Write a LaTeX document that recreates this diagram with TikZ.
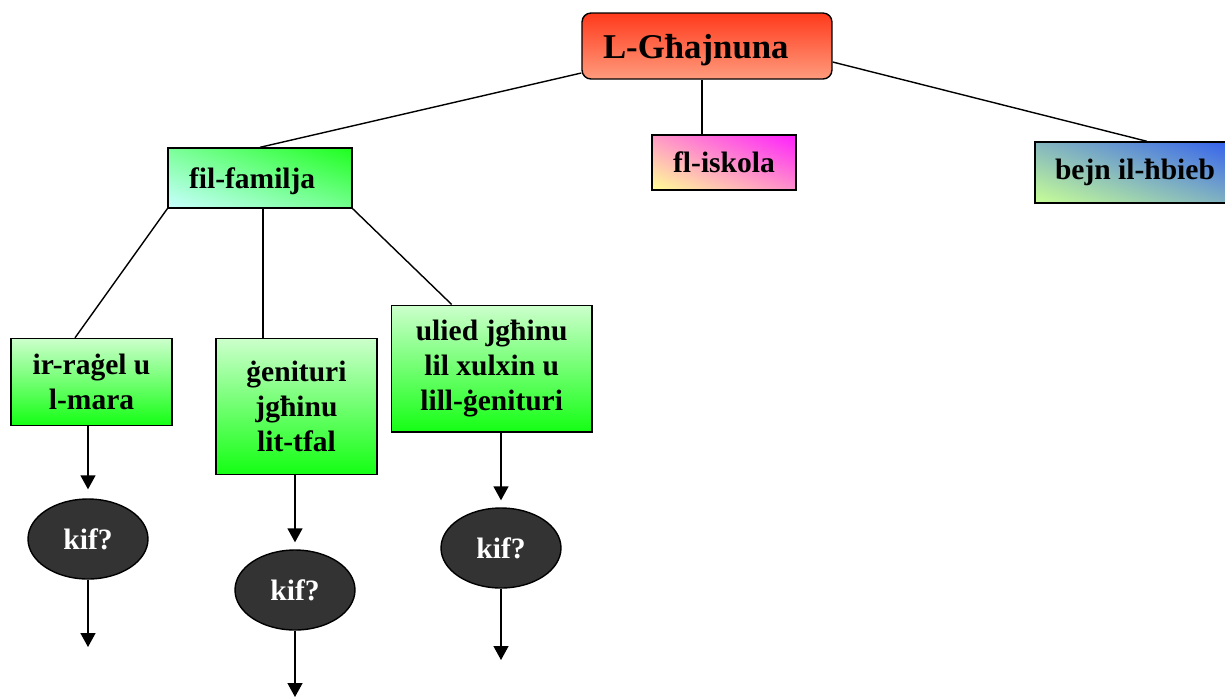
\documentclass[tikz,border=0pt]{standalone}
\usepackage{fontspec}
\setmainfont{Liberation Serif}
\usetikzlibrary{arrows.meta, shapes.geometric, shadings, calc}

\definecolor{hotred}{RGB}{255,58,28}
\definecolor{salmon}{RGB}{255,155,125}
\definecolor{limegreen}{RGB}{30,255,30}
\definecolor{palecyan}{RGB}{200,255,255}
\definecolor{hotpink}{RGB}{255,30,255}
\definecolor{paleyellow}{RGB}{255,255,150}
\definecolor{royalblue}{RGB}{50,95,240}
\definecolor{palelime}{RGB}{200,255,150}
\definecolor{palegreen}{RGB}{204,255,204}
\definecolor{brightgreen}{RGB}{20,255,20}
\definecolor{kifgray}{RGB}{51,51,51}

\begin{document}
\begin{tikzpicture}[x = 0.02cm, y = -0.02cm, line width = 0.8pt,
  >={Triangle[width=0.3cm,length=0.28cm]},
  box/.style = {draw, rectangle, inner sep=0pt, align=center,
    font=\bfseries\fontsize{16.8pt}{19.9pt}\selectfont},
  diagbox/.style 2 args = {box, lower left=#1, upper right=#2,
    upper left=#1!55!#2, lower right=#1!50!#2},
  greenbox/.style = {box, top color=palegreen, bottom color=brightgreen, minimum width=3.22cm},
  kif/.style = {draw, ellipse, fill=kifgray, text=white, inner sep=0pt,
    minimum width=2.4cm, minimum height=1.6cm,
    font=\bfseries\fontsize{16.8pt}{19.9pt}\selectfont}]

\clip (0,0) rectangle (1225,698);

% top
\node[box, rounded corners=0.18cm, top color=hotred, bottom color=salmon,
  minimum width=5cm, minimum height=1.32cm, text width=4.16cm, align=left, text depth=0pt,
  font=\bfseries\fontsize{19.8pt}{23pt}\selectfont] (top) at (707,46) {L-Għajnuna};

% second row
\node[diagbox={palecyan}{limegreen}, minimum width=3.68cm, minimum height=1.2cm,
  text width=2.84cm, align=left, text depth=0pt] (fam) at (260,178) {fil-familja};
\node[diagbox={paleyellow}{hotpink}, minimum width=2.88cm, minimum height=1.1cm] (isk) at (724,162.5) {fl-iskola};
\node[diagbox={palelime}{royalblue}, minimum width=4cm, minimum height=1.22cm] (bejn) at (1135,172.5) {bejn il-ħbieb};

% third row
\node[greenbox, minimum height=1.74cm] (rag) at (91.5,382) {ir-raġel u\\l-mara};
\node[greenbox, minimum height=2.72cm] (gen) at (296.5,406.3) {ġenituri\\jgħinu\\lit-tfal};
\node[greenbox, minimum width=4.02cm, minimum height=2.54cm] (uli) at (491.7,368.7) {ulied jgħinu\\lil xulxin u\\lill-ġenituri};

% kif?
\node[kif] (k1) at (88,539) {kif?};
\node[kif] (k2) at (295,590) {kif?};
\node[kif] (k3) at (501,548) {kif?};
\coordinate (e1) at (87,647);
\coordinate (e2) at (293,697);
\coordinate (e3) at (499,660);

% lines
\draw ([yshift=-0.54cm]top.west) -- (fam.north);
\draw ([xshift=-0.1cm]top.south) -- ([xshift=-0.1cm]top.south |- isk.north);
\draw ([yshift=-0.32cm]top.east) -- ([xshift=0.24cm]bejn.north);
\draw (fam.south west) -- ([xshift=-0.33cm]rag.north);
\draw ([xshift=0.06cm]fam.south) -- ([xshift=0.06cm]fam.south |- gen.north);
\draw (fam.south east) -- ([xshift=-0.8cm]uli.north);

% arrows
\draw[->] (rag.south -| k1.north) -- ($(k1.north)+(0cm,0.18cm)$);
\draw[->] (gen.south -| k2.north) -- ($(k2.north)+(0cm,0.14cm)$);
\draw[->] (uli.south -| k3.north) -- ($(k3.north)+(0cm,0.14cm)$);
\draw[->] (k1.south) -- (k1.south |- e1);
\draw[->] (k2.south) -- (k2.south |- e2);
\draw[->] (k3.south) -- (k3.south |- e3);

\end{tikzpicture}
\end{document}
